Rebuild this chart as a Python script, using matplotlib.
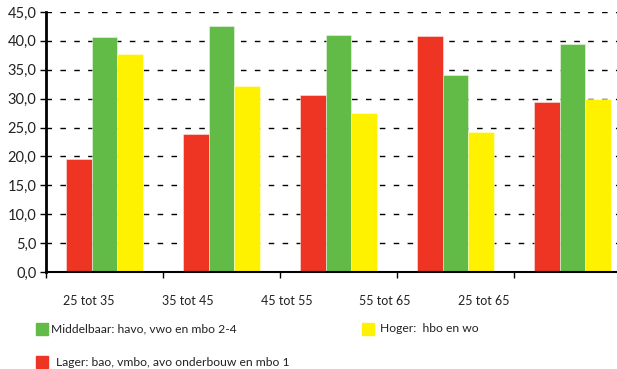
import matplotlib.pyplot as plt
import numpy as np
from matplotlib.patches import Rectangle

plt.rcParams["font.family"] = ["Lato", "DejaVu Sans"]

categories = ["25 tot 35", "35 tot 45", "45 tot 55", "55 tot 65", "25 tot 65"]
lager = [19.5, 23.8, 30.6, 40.8, 29.4]
middelbaar = [40.7, 42.6, 41.0, 34.1, 39.4]
hoger = [37.8, 32.2, 27.5, 24.3, 29.9]

series = [
    ("Lager: bao, vmbo, avo onderbouw en mbo 1", lager, "#ee3524"),
    ("Middelbaar: havo, vwo en mbo 2-4", middelbaar, "#62bb46"),
    ("Hoger:  hbo en wo", hoger, "#fff200"),
]

W, H = 617, 369
fig = plt.figure(figsize=(W / 100, H / 100), dpi=100)
ax = fig.add_axes([46 / W, 97 / H, 585 / W, 260 / H])

x = np.arange(len(categories))
bw = 0.222
for i, (name, vals, col) in enumerate(series):
    ax.bar(x + (i - 1) * bw, vals, width=bw, color=col, edgecolor=(1, 1, 1, 0.5), linewidth=0.6, zorder=3)

ax.set_xlim(-0.5, len(categories) - 0.5)
ax.set_ylim(0, 45)
yt = np.arange(0, 46, 5)
ax.set_yticks(yt)
ax.set_yticklabels([f"{v:.1f}".replace(".", ",") for v in yt], fontsize=10.5, color="#222222")
ax.set_xticks(np.arange(len(categories) + 1) - 0.5)
ax.set_xticklabels([])
ax.tick_params(axis="x", direction="out", length=4, width=1)
ax.tick_params(axis="y", direction="out", length=4, width=1, pad=3)

for v in yt[1:]:
    ax.axhline(v, color="black", linestyle=(0, (4, 6)), linewidth=1, zorder=1)
for s in ["top", "right"]:
    ax.spines[s].set_visible(False)
ax.spines["left"].set_linewidth(2)
ax.spines["bottom"].set_linewidth(1.5)
ax.spines["left"].set_zorder(5)
ax.spines["bottom"].set_zorder(5)

# category labels (placed as in the reference, not centred on groups)
for i, lab in enumerate(categories):
    fig.text((89 + i * 98.7) / W, 1 - 301 / H, lab, ha="center", va="center", fontsize=9, color="#222222")

# legend
def legend_item(xp, yp, col, text, tx):
    fig.patches.append(Rectangle((xp / W, 1 - (yp + 6) / H), 12 / W, 12 / H,
                                 transform=fig.transFigure, color=col))
    fig.text(tx / W, 1 - yp / H, text, ha="left", va="center", fontsize=8.7, color="#222222")

legend_item(36, 329, series[1][2], series[1][0], 51)
legend_item(362, 329, series[2][2], series[2][0], 380)
legend_item(36, 362, series[0][2], series[0][0], 56)

fig.savefig("out.png", dpi=100)
